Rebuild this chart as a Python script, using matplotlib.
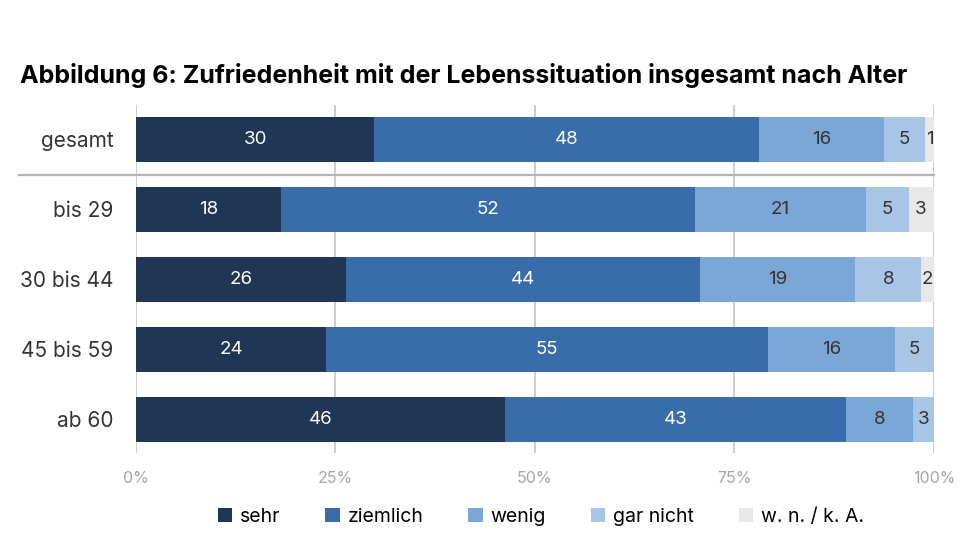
import matplotlib
matplotlib.use('Agg')

import matplotlib.pyplot as plt
from matplotlib.lines import Line2D
from matplotlib.patches import Patch

plt.rcParams['font.family'] = ['Inter', 'DejaVu Sans']

# -----------------------------
# Data (percent)
# -----------------------------
groups = ['gesamt', 'bis 29', '30 bis 44', '45 bis 59', 'ab 60']
series = ['sehr', 'ziemlich', 'wenig', 'gar nicht', 'w. n. / k. A.']

sehr = [29.9, 18.16, 26.34, 23.88, 46.26]
ziemlich = [48.15, 51.86, 44.35, 55.29, 42.72]
wenig = [15.7, 21.45, 19.45, 15.9, 8.43]
gar_nicht = [5.13, 5.35, 8.23, 4.92, 2.59]
wn_ka = [1.13, 3.13, 1.63, 0, 0]

xticks = [0, 25, 50, 75, 100]
xticklabels = ['0%', '25%', '50%', '75%', '100%']

colors = ['#1f3655', '#386caa', '#7ba7d7', '#a8c5e5', '#e8e8e8']
text_colors = ['white', 'white', '#333333', '#333333', '#333333']

title = 'Abbildung 6: Zufriedenheit mit der Lebenssituation insgesamt nach Alter'

# -----------------------------
# Plot
# -----------------------------
fig = plt.figure(figsize=(9.71, 5.46), dpi=100)
ax = fig.add_axes([0.1398, 0.1703, 0.8221, 0.6374])

values = [sehr, ziemlich, wenig, gar_nicht, wn_ka]
ypos = list(range(len(groups)))
left = [0.0] * len(groups)
for vals, col, tcol, name in zip(values, colors, text_colors, series):
    bars = ax.barh(ypos, vals, left=left, height=0.65, color=col, label=name, zorder=2)
    for b, v in zip(bars, vals):
        if v <= 0:
            continue
        ax.text(b.get_x() + b.get_width() / 2, b.get_y() + b.get_height() / 2,
                f'{round(v):d}', ha='center', va='center', color=tcol,
                fontsize=13.5, zorder=3)
    left = [l + v for l, v in zip(left, vals)]

ax.set_xlim(0, 100)
ax.set_ylim(4.48, -0.49)
ax.set_yticks(ypos)
ax.set_yticklabels(groups, fontsize=15, color='#333333')
ax.set_xticks(xticks)
ax.set_xticklabels(xticklabels, fontsize=11.5, color='#a6a6a6')
ax.tick_params(axis='both', length=0)
ax.tick_params(axis='y', pad=16)
ax.tick_params(axis='x', pad=13)
for s in ax.spines.values():
    s.set_visible(False)
ax.grid(axis='x', color='#c4c4c4', linewidth=1.2, zorder=0)
ax.set_axisbelow(True)

# separator between gesamt and age groups
fig.add_artist(Line2D([19 / 971, 934 / 971], [1 - 175.3 / 546, 1 - 175.3 / 546],
                      color='#b4b4b4', linewidth=1.6))

fig.text(20 / 971, 1 - 75 / 546, title, fontsize=18, fontweight='bold',
         color='black', ha='left', va='center')

handles = [Patch(facecolor=c, edgecolor='none') for c in colors]
fig.legend(handles, series, loc='center', bbox_to_anchor=(0.557, 1 - 517 / 546),
           ncol=5, frameon=False, fontsize=14, handlelength=0.75, handleheight=0.75,
           handletextpad=0.4, columnspacing=2.3)

fig.savefig('out.png', dpi=100)
